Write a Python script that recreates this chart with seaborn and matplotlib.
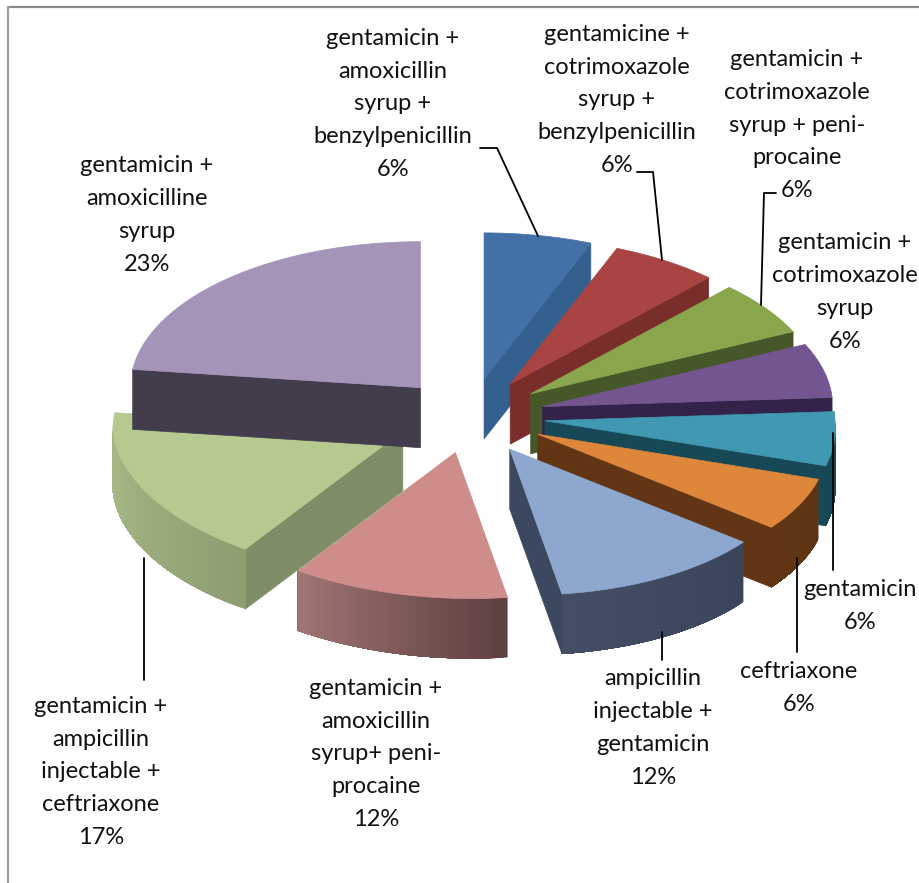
import numpy as np
import matplotlib
matplotlib.use("Agg")
import matplotlib.pyplot as plt
import seaborn as sns

# Treatment regimens and their share of prescriptions (%)
regimens = [
    "gentamicin +\namoxicillin\nsyrup +\nbenzylpenicillin",
    "gentamicine +\ncotrimoxazole\nsyrup +\nbenzylpenicillin",
    "gentamicin +\ncotrimoxazole\nsyrup + peni-\nprocaine",
    "gentamicin +\ncotrimoxazole\nsyrup",
    "gentamicin",
    "ceftriaxone",
    "ampicillin\ninjectable +\ngentamicin",
    "gentamicin +\namoxicillin\nsyrup+ peni-\nprocaine",
    "gentamicin +\nampicillin\ninjectable +\nceftriaxone",
    "gentamicin +\namoxicilline\nsyrup",
]
shares = [6, 6, 6, 6, 6, 6, 12, 12, 17, 23]

# Colours per slice: top face, cut face, outer wall (left end, right end)
top_colors = ["#4371A7", "#A84441", "#8AA64D", "#735590", "#4098B2",
              "#DE863A", "#8EA7CF", "#CE8C8B", "#B6C98F", "#A394B8"]
cut_colors = ["#33608F", "#7A2E2C", "#46582A", "#33224A", "#174856",
              "#623614", "#3C4860", "#5E3F40", "#7E8D66", "#423C4C"]
wall_left = ["#33608F", "#7A2E2C", "#46582A", "#33224A", "#174856",
             "#623614", "#444F66", "#A07573", "#A7BA87", "#423C4C"]
wall_right = ["#33608F", "#7A2E2C", "#46582A", "#33224A", "#174856",
              "#5C3313", "#3A455C", "#5E3F40", "#8E9E71", "#423C4C"]

# Layout of the label blocks and their leader lines
label_centers = [(393, 104), (617, 100), (797, 125), (845, 292), (860, 606),
                 (799, 688), (653, 728), (376, 754), (101, 772), (147, 215)]
leaders = {
    0: [(480, 148), (497, 148), (538, 236)],
    1: [(637, 172), (653, 172), (662, 260)],
    2: [(776, 193), (764, 193), (761, 305)],
    4: [(833, 433), (833, 570)],
    5: [(797, 558), (797, 652)],
    6: [(662, 632), (662, 660)],
    8: [(144, 558), (144, 680)],
}

CX, CY = 470, 416
RX, RY = 290, 146
EXPLODE = 75
DEPTH = 60
SHEAR = 16          # sideways drift of the near half, from the camera angle
DRAW_ORDER = [0, 1, 2, 3, 4, 5, 6, 9, 8, 7]

sns.set_theme(style="white")
plt.rcParams["font.family"] = ["Lato", "DejaVu Sans"]

fig = plt.figure(figsize=(9.2, 8.83), dpi=100, facecolor="white")
ax = fig.add_axes([0, 0, 1, 1])
ax.set_xlim(0, 920)
ax.set_ylim(883, 0)
ax.axis("off")


def rim(theta):
    """Screen offset of the rim point at a clockwise angle from 12 o'clock."""
    t = np.radians(theta)
    depth_ratio = -np.cos(t)
    return np.array([RX * np.sin(t) + SHEAR * max(depth_ratio, 0), RY * depth_ratio])


def cross(a, b):
    return a[0] * b[1] - a[1] * b[0]


edges = 3.6 * np.concatenate([[0], np.cumsum(shares)])

for i in DRAW_ORDER:
    a0, a1 = edges[i], edges[i + 1]
    mid = (a0 + a1) / 2
    apex = np.array([CX, CY]) + EXPLODE / RX * rim(mid)
    down = np.array([0, DEPTH])

    # Radial cut faces that turn towards the viewer
    for ang in (a0, a1):
        edge = rim(ang)
        if cross(edge, rim(mid)) * cross(edge, down) < 0:
            quad = np.array([apex, apex + edge, apex + edge + down, apex + down])
            ax.fill(quad[:, 0], quad[:, 1], color=cut_colors[i], lw=0.5, zorder=i)

    # Outer wall: each overlapping band covers the rest of the arc, so the
    # shading steps from colour to colour without seams
    lo, hi = max(a0, 90), min(a1, 270)
    if hi > lo:
        steps = np.linspace(lo, hi, 60)
        upper = np.array([apex + rim(t) for t in steps])
        shade = sns.blend_palette([wall_right[i], wall_left[i]], 59)
        for k in range(59):
            band = np.vstack([upper[k:], (upper[k:] + down)[::-1]])
            ax.fill(band[:, 0], band[:, 1], color=shade[k], lw=0, zorder=i)

    # Top face
    arc = np.array([apex + rim(t) for t in np.linspace(a0, a1, 60)])
    outline = np.vstack([apex, arc])
    ax.fill(outline[:, 0], outline[:, 1], color=top_colors[i], lw=0.5, zorder=i)

# Leader lines
for path in leaders.values():
    xs, ys = zip(*path)
    ax.plot(xs, ys, color="black", lw=1.3, solid_joinstyle="miter", zorder=20)

# Slice labels
for name, pct, (x, y) in zip(regimens, shares, label_centers):
    ax.text(x, y, f"{name}\n{pct}%", ha="center", va="center", fontsize=17,
            linespacing=1.69, color="#111111", zorder=30)

# Chart frame: only its top and left edges fall inside the canvas
ax.plot([8.5, 920], [6.5, 6.5], color="#8A8A8A", lw=1.6, zorder=40)
ax.plot([8.5, 8.5], [6.5, 883], color="#A0A0A0", lw=1.6, zorder=40)

fig.savefig("out.png", dpi=100, facecolor="white")
